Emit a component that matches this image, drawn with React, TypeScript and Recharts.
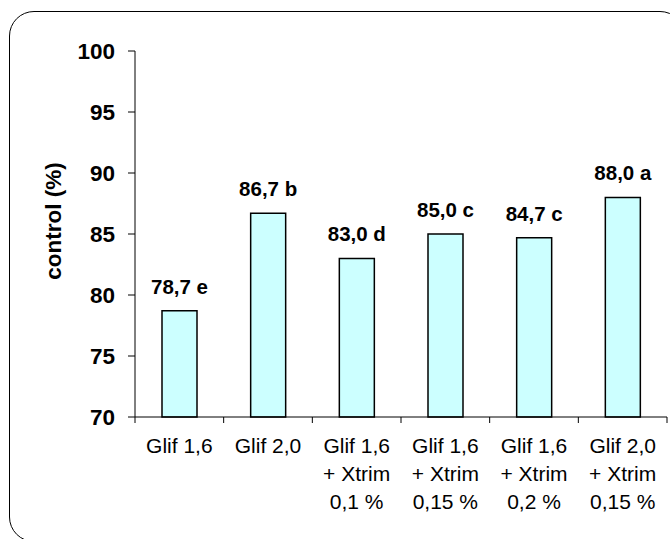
import { BarChart, Bar, XAxis, YAxis, LabelList, Label } from 'recharts';

const categories = [
  'Glif 1,6',
  'Glif 2,0',
  'Glif 1,6\n+ Xtrim\n0,1 %',
  'Glif 1,6\n+ Xtrim\n0,15 %',
  'Glif 1,6\n+ Xtrim\n0,2 %',
  'Glif 2,0\n+ Xtrim\n0,15 %',
];
const control = [78.7, 86.7, 83.0, 85.0, 84.7, 88.0];
const letters = ['e', 'b', 'd', 'c', 'c', 'a'];
const yTicks = [70, 75, 80, 85, 90, 95, 100];

const data = categories.map((name, i) => ({
  name,
  control: control[i],
  label: `${control[i].toFixed(1).replace('.', ',')} ${letters[i]}`,
}));

const FONT = 'Arial, "Liberation Sans", sans-serif';
const W = 670;
const H = 539;
const PLOT_LEFT = 135;
const PLOT_RIGHT = 667;
const band = (PLOT_RIGHT - PLOT_LEFT) / categories.length;

function XTick(props: any) {
  const { x, y, payload, index } = props;
  const lines = String(payload.value).split('\n');
  return (
    <g>
      <line x1={x - band / 2} x2={x - band / 2} y1={y} y2={y + 6} stroke="#000" />
      {index === categories.length - 1 && (
        <line x1={x + band / 2} x2={x + band / 2} y1={y} y2={y + 6} stroke="#000" />
      )}
      {lines.map((ln, i) => (
        <text
          key={i}
          x={x}
          y={y + 36 + i * 28}
          textAnchor="middle"
          fill="#000"
          fontSize={21}
          fontFamily={FONT}
        >
          {ln}
        </text>
      ))}
    </g>
  );
}

function BarLabel(props: any) {
  const { x, y, width, value } = props;
  return (
    <text
      x={x + width / 2}
      y={y - 17}
      textAnchor="middle"
      fill="#000"
      fontSize={20.5}
      fontWeight="bold"
      fontFamily={FONT}
    >
      {value}
    </text>
  );
}

export default function App() {
  return (
    <div style={{ position: 'absolute', left: 0, top: 0, width: W, height: H, overflow: 'hidden', background: '#fff' }}>
      <div
        style={{
          position: 'absolute',
          left: 9,
          top: 11,
          width: 676,
          height: 531,
          border: '1.5px solid #000',
          borderRadius: 25,
          boxSizing: 'border-box',
          pointerEvents: 'none',
        }}
      />
      <div style={{ position: 'absolute', left: 0, top: 0 }}>
        <BarChart width={W} height={H} data={data} margin={{ top: 51, right: W - PLOT_RIGHT, bottom: 0, left: 0 }}>
          <XAxis
            dataKey="name"
            height={122}
            interval={0}
            tickLine={false}
            tickSize={0}
            tickMargin={0}
            axisLine={{ stroke: '#000' }}
            tick={<XTick />}
          />
          <YAxis
            width={PLOT_LEFT}
            domain={[70, 100]}
            ticks={yTicks}
            interval={0}
            tickSize={7}
            tickMargin={13}
            axisLine={{ stroke: '#000' }}
            tickLine={{ stroke: '#000' }}
            tick={{ fill: '#000', fontSize: 22.5, fontWeight: 'bold', fontFamily: FONT }}
          >
            <Label
              content={() => (
                <text
                  x={53}
                  y={221}
                  transform="rotate(-90 53 221)"
                  textAnchor="middle"
                  dominantBaseline="central"
                  fill="#000"
                  fontSize={22.5}
                  fontWeight="bold"
                  fontFamily={FONT}
                >
                  control (%)
                </text>
              )}
            />
          </YAxis>
          <Bar dataKey="control" fill="#CCFFFF" stroke="#000" strokeWidth={1.5} barSize={35} isAnimationActive={false}>
            <LabelList dataKey="label" content={<BarLabel />} />
          </Bar>
        </BarChart>
      </div>
    </div>
  );
}
